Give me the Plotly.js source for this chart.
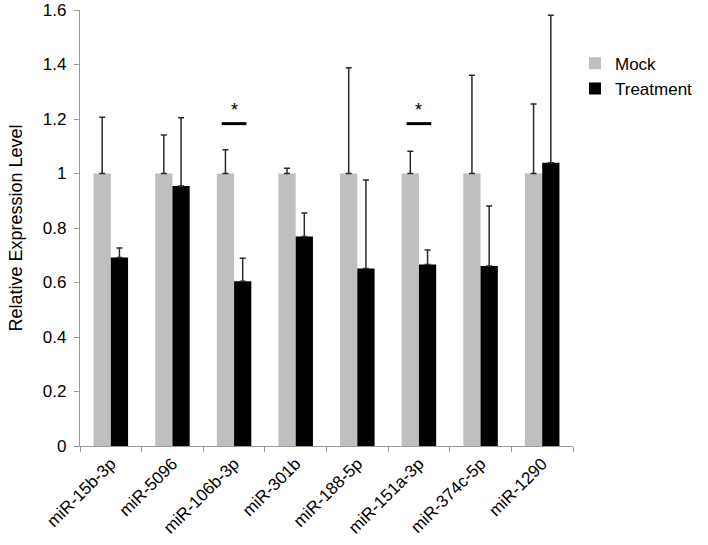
<!DOCTYPE html>
<html>
<head>
<meta charset="utf-8">
<script src="https://cdn.plot.ly/plotly-3.0.1.min.js"></script>
<style>html,body{margin:0;padding:0;background:#fff;}#chart{width:708px;height:545px;}</style>
</head>
<body>
<div id="chart"></div>
<script>
const categories = ['miR-15b-3p','miR-5096','miR-106b-3p','miR-301b','miR-188-5p','miR-151a-3p','miR-374c-5p','miR-1290'];
const mockValues = [1, 1, 1, 1, 1, 1, 1, 1];
const mockErrors = [0.206, 0.141, 0.087, 0.019, 0.388, 0.082, 0.361, 0.255];
const treatmentValues = [0.692, 0.954, 0.605, 0.769, 0.651, 0.666, 0.661, 1.039];
const treatmentErrors = [0.035, 0.251, 0.084, 0.086, 0.325, 0.053, 0.220, 0.542];
const significant = ['miR-106b-3p', 'miR-151a-3p'];
const sigLevel = 1.183;
const yTicks = [0, 0.2, 0.4, 0.6, 0.8, 1, 1.2, 1.4, 1.6];
const yTickLabels = ['0', '0.2', '0.4', '0.6', '0.8', '1', '1.2', '1.4', '1.6'];

const FONT = 'Liberation Sans, Arial, Helvetica, sans-serif';

const errStyle = {type: 'data', symmetric: false, arrayminus: categories.map(() => 0), color: '#2a2a2a', thickness: 1.5, width: 3};

const traces = [
  {type: 'bar', name: 'Mock', legendgroup: 'a', x: categories, y: mockValues, marker: {color: '#bfbfbf'},
   error_y: Object.assign({}, errStyle, {array: mockErrors})},
  {type: 'bar', name: 'Treatment', legendgroup: 'b', x: categories, y: treatmentValues, marker: {color: '#000000'},
   error_y: Object.assign({}, errStyle, {array: treatmentErrors})}
];

const shapes = [];
const annotations = [];
significant.forEach(c => {
  const i = categories.indexOf(c);
  shapes.push({type: 'line', xref: 'x', yref: 'y', x0: i - 0.2, x1: i + 0.2, y0: sigLevel, y1: sigLevel,
    line: {color: '#000', width: 3}});
  annotations.push({xref: 'x', yref: 'y', x: i, y: sigLevel, text: '*', showarrow: false,
    yanchor: 'bottom', yshift: 2, font: {family: FONT, size: 18, color: '#000'}});
});

const layout = {
  width: 708, height: 545,
  margin: {l: 80, r: 118, t: 10, b: 99},
  paper_bgcolor: '#fff', plot_bgcolor: '#fff',
  barmode: 'group', bargap: 0.44, bargroupgap: 0,
  font: {family: FONT, color: '#000'},
  showlegend: true,
  legend: {x: 1.004, y: 0.918, xanchor: 'left', yanchor: 'top', font: {family: FONT, size: 17, color: '#000'},
    itemwidth: 30, tracegroupgap: 7, bgcolor: 'rgba(0,0,0,0)', traceorder: 'normal'},
  xaxis: {type: 'category', showline: true, linecolor: '#999', linewidth: 1.2, ticks: 'outside', tickson: 'boundaries',
    ticklen: 5, tickcolor: '#999', tickangle: -45, tickfont: {family: FONT, size: 17, color: '#000'},
    showgrid: false, zeroline: false, range: [-0.5, 7.5]},
  yaxis: {range: [0, 1.6], tickvals: yTicks, ticktext: yTickLabels, showline: true, linecolor: '#999', linewidth: 1.2,
    ticks: 'outside', ticklen: 5, tickcolor: '#999', tickfont: {family: FONT, size: 17, color: '#000'},
    ticklabelstandoff: 4,
    showgrid: false, zeroline: false,
    title: {text: 'Relative Expression Level', font: {family: FONT, size: 18, color: '#000'}, standoff: 15}},
  shapes: shapes,
  annotations: annotations
};

Plotly.newPlot('chart', traces, layout, {displayModeBar: false, staticPlot: true});
</script>
</body>
</html>
